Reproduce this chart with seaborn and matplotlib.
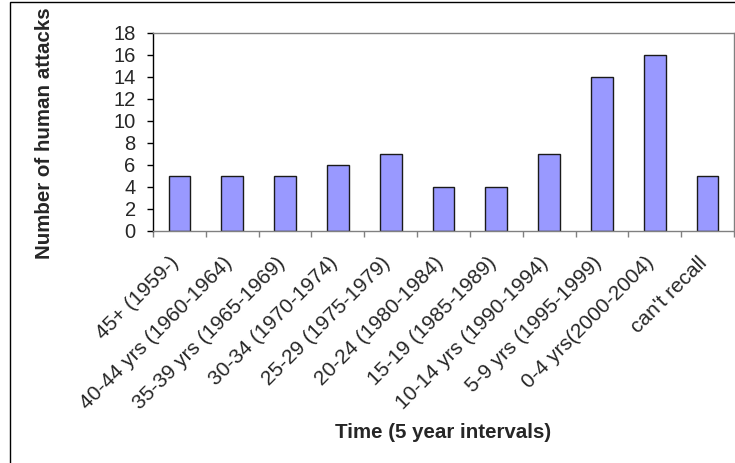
import matplotlib
matplotlib.use("Agg")
import matplotlib.pyplot as plt
import matplotlib.transforms as mtransforms
import seaborn as sns
import pandas as pd
from matplotlib.patches import Rectangle

categories = ["45+ (1959-)", "40-44 yrs (1960-1964)", "35-39 yrs (1965-1969)",
              "30-34 (1970-1974)", "25-29 (1975-1979)", "20-24 (1980-1984)",
              "15-19 (1985-1989)", "10-14 yrs (1990-1994)", "5-9 yrs (1995-1999)",
              "0-4 yrs(2000-2004)", "can't recall"]
attacks = [5, 5, 5, 6, 7, 4, 4, 7, 14, 16, 5]
yticks = list(range(0, 19, 2))

sns.set_theme(style="white")
plt.rcParams['font.family'] = ['Liberation Sans', 'DejaVu Sans']

df = pd.DataFrame({"cat": categories, "val": attacks})

W, H = 735, 463
fig = plt.figure(figsize=(W / 100, H / 100), dpi=100)
ax_l, ax_r, ax_t, ax_b = 153, 734, 33, 231
ax = fig.add_axes([ax_l / W, 1 - ax_b / H, (ax_r - ax_l) / W, (ax_b - ax_t) / H])

sns.barplot(data=df, x="cat", y="val", ax=ax, color="#9999FF", saturation=1,
            width=0.41, edgecolor="#1a1a1a", linewidth=1.0)

ax.set_ylim(0, 18)
ax.set_xlim(-0.5, len(categories) - 0.5)
ax.set_yticks(yticks)
ax.set_yticklabels([str(t) for t in yticks], fontsize=14.5)
ax.tick_params(axis='y', direction='out', length=4.5, width=1, color='black', pad=8, left=True)

ax.set_xticks(range(len(categories)))
ax.set_xticklabels(categories, rotation=45, ha='right', va='top', rotation_mode='anchor', fontsize=15)
ax.tick_params(axis='x', length=0, pad=16)
offset = mtransforms.ScaledTranslation(-10 / 100, 0, fig.dpi_scale_trans)
for lbl in ax.get_xticklabels():
    lbl.set_transform(lbl.get_transform() + offset)
# ticks at category boundaries
ax.set_xticks([i - 0.5 for i in range(len(categories) + 1)], minor=True)
ax.tick_params(axis='x', which='minor', direction='out', length=4.5, width=1, color='#808080', bottom=True)

ax.spines['left'].set_color('black')
for s in ['top', 'right', 'bottom']:
    ax.spines[s].set_color('#808080')
for s in ax.spines.values():
    s.set_linewidth(1.0)
    s.set_visible(True)

ax.set_xlabel("Time (5 year intervals)", fontsize=14.8, fontweight='bold')
ax.set_ylabel("Number of human attacks", fontsize=14.8, fontweight='bold')
ax.xaxis.set_label_coords(0.5, (ax_b - 423) / (ax_b - ax_t))
ax.yaxis.set_label_coords((54 - ax_l) / (ax_r - ax_l), (ax_b - 133) / (ax_b - ax_t))

fig.patches.append(Rectangle((10 / W, -0.2), 1.2, 1.2 - 2 / H, transform=fig.transFigure,
                             fill=False, edgecolor='black', linewidth=1.0, clip_on=False))

fig.savefig("out.png", dpi=100)
